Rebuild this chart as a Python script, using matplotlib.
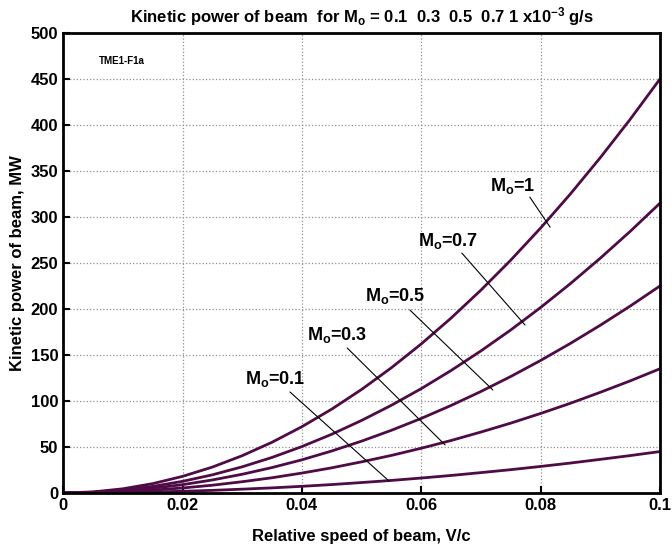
import matplotlib
matplotlib.use("Agg")
import matplotlib.pyplot as plt
import numpy as np

plt.rcParams['font.family'] = ['Liberation Sans', 'DejaVu Sans']
plt.rcParams['font.weight'] = 'bold'
plt.rcParams['mathtext.fontset'] = 'custom'
plt.rcParams['mathtext.rm'] = 'Liberation Sans:bold'
plt.rcParams['mathtext.it'] = 'Liberation Sans:bold'
plt.rcParams['mathtext.bf'] = 'Liberation Sans:bold'

# relative speed V/c
speed = [0, 0.005, 0.01, 0.015, 0.02, 0.025, 0.03, 0.035, 0.04, 0.045, 0.05,
         0.055, 0.06, 0.065, 0.07, 0.075, 0.08, 0.085, 0.09, 0.095, 0.1]
# kinetic power (MW)
p_m1 = [0, 1.1, 4.5, 10.1, 18, 28.1, 40.5, 55.1, 72, 91.1, 112.5,
        136.1, 162, 190.1, 220.5, 253.1, 288, 325.1, 364.5, 406.1, 450]
p_m07 = [0, 0.8, 3.2, 7.1, 12.6, 19.7, 28.4, 38.6, 50.4, 63.8, 78.8,
         95.3, 113.4, 133.1, 154.4, 177.2, 201.6, 227.6, 255.2, 284.3, 315]
p_m05 = [0, 0.6, 2.3, 5.1, 9, 14.1, 20.3, 27.6, 36, 45.6, 56.3,
         68.1, 81, 95.1, 110.3, 126.6, 144, 162.6, 182.3, 203.1, 225]
p_m03 = [0, 0.3, 1.4, 3.0, 5.4, 8.4, 12.2, 16.5, 21.6, 27.3, 33.8,
         40.8, 48.6, 57.0, 66.2, 75.9, 86.4, 97.5, 109.4, 121.8, 135]
p_m01 = [0, 0.1, 0.5, 1.0, 1.8, 2.8, 4.1, 5.5, 7.2, 9.1, 11.3,
         13.6, 16.2, 19.0, 22.1, 25.3, 28.8, 32.5, 36.5, 40.6, 45]
labels = ['1', '0.7', '0.5', '0.3', '0.1']

# label text position, leader line start, leader line end
ann = [
    ((0.0715, 328.6), (0.0782, 321.7), (0.0816, 289)),
    ((0.0595, 268.5), (0.0668, 260.9), (0.0774, 182.6)),
    ((0.0506, 209.0), (0.0581, 198.9), (0.0720, 112.0)),
    ((0.0409, 166.3), (0.0476, 157.6), (0.0640, 52.2)),
    ((0.0305, 118.1), (0.0380, 109.8), (0.0546, 13.0)),
]

col = '#4e0b45'

fig = plt.figure(figsize=(6.72, 5.52), dpi=100)
ax = fig.add_axes([0.094, 0.107, 0.888, 0.833])

for p in [p_m1, p_m07, p_m05, p_m03, p_m01]:
    ax.plot(speed, p, color=col, lw=2)

for lab, (tpos, s, e) in zip(labels, ann):
    ax.text(tpos[0], tpos[1], r'M$_\mathrm{o}$=' + lab, fontsize=13,
            fontweight='bold', ha='left', va='baseline')
    ax.annotate('', xy=e, xytext=s,
                arrowprops=dict(arrowstyle='-', lw=0.8, color='black',
                                shrinkA=0, shrinkB=0))

ax.text(0.0059, 469.6, 'TME1-F1a', fontsize=7, fontweight='bold',
        va='center', ha='left')

ax.set_xlim(0, 0.1)
ax.set_ylim(0, 500)
ax.set_xticks([0, 0.02, 0.04, 0.06, 0.08, 0.1])
ax.set_xticklabels(['0', '0.02', '0.04', '0.06', '0.08', '0.1'])
ax.set_yticks(np.arange(0, 501, 50))
ax.grid(True, color='#909090', linestyle=':', lw=0.9)
ax.tick_params(direction='in', length=5, width=1.5, labelsize=12)
for sp in ax.spines.values():
    sp.set_linewidth(2)

ax.set_xlabel('Relative speed of beam, V/c', fontsize=12, fontweight='bold',
              labelpad=12)
ax.set_ylabel('Kinetic power of beam, MW', fontsize=12, fontweight='bold')
ax.set_title(r'Kinetic power of beam  for M$_\mathrm{o}$ = 0.1  0.3  0.5  0.7 1 x10$^{-3}$ g/s',
             fontsize=12, fontweight='bold', pad=8)

fig.savefig('out.png', dpi=100)
